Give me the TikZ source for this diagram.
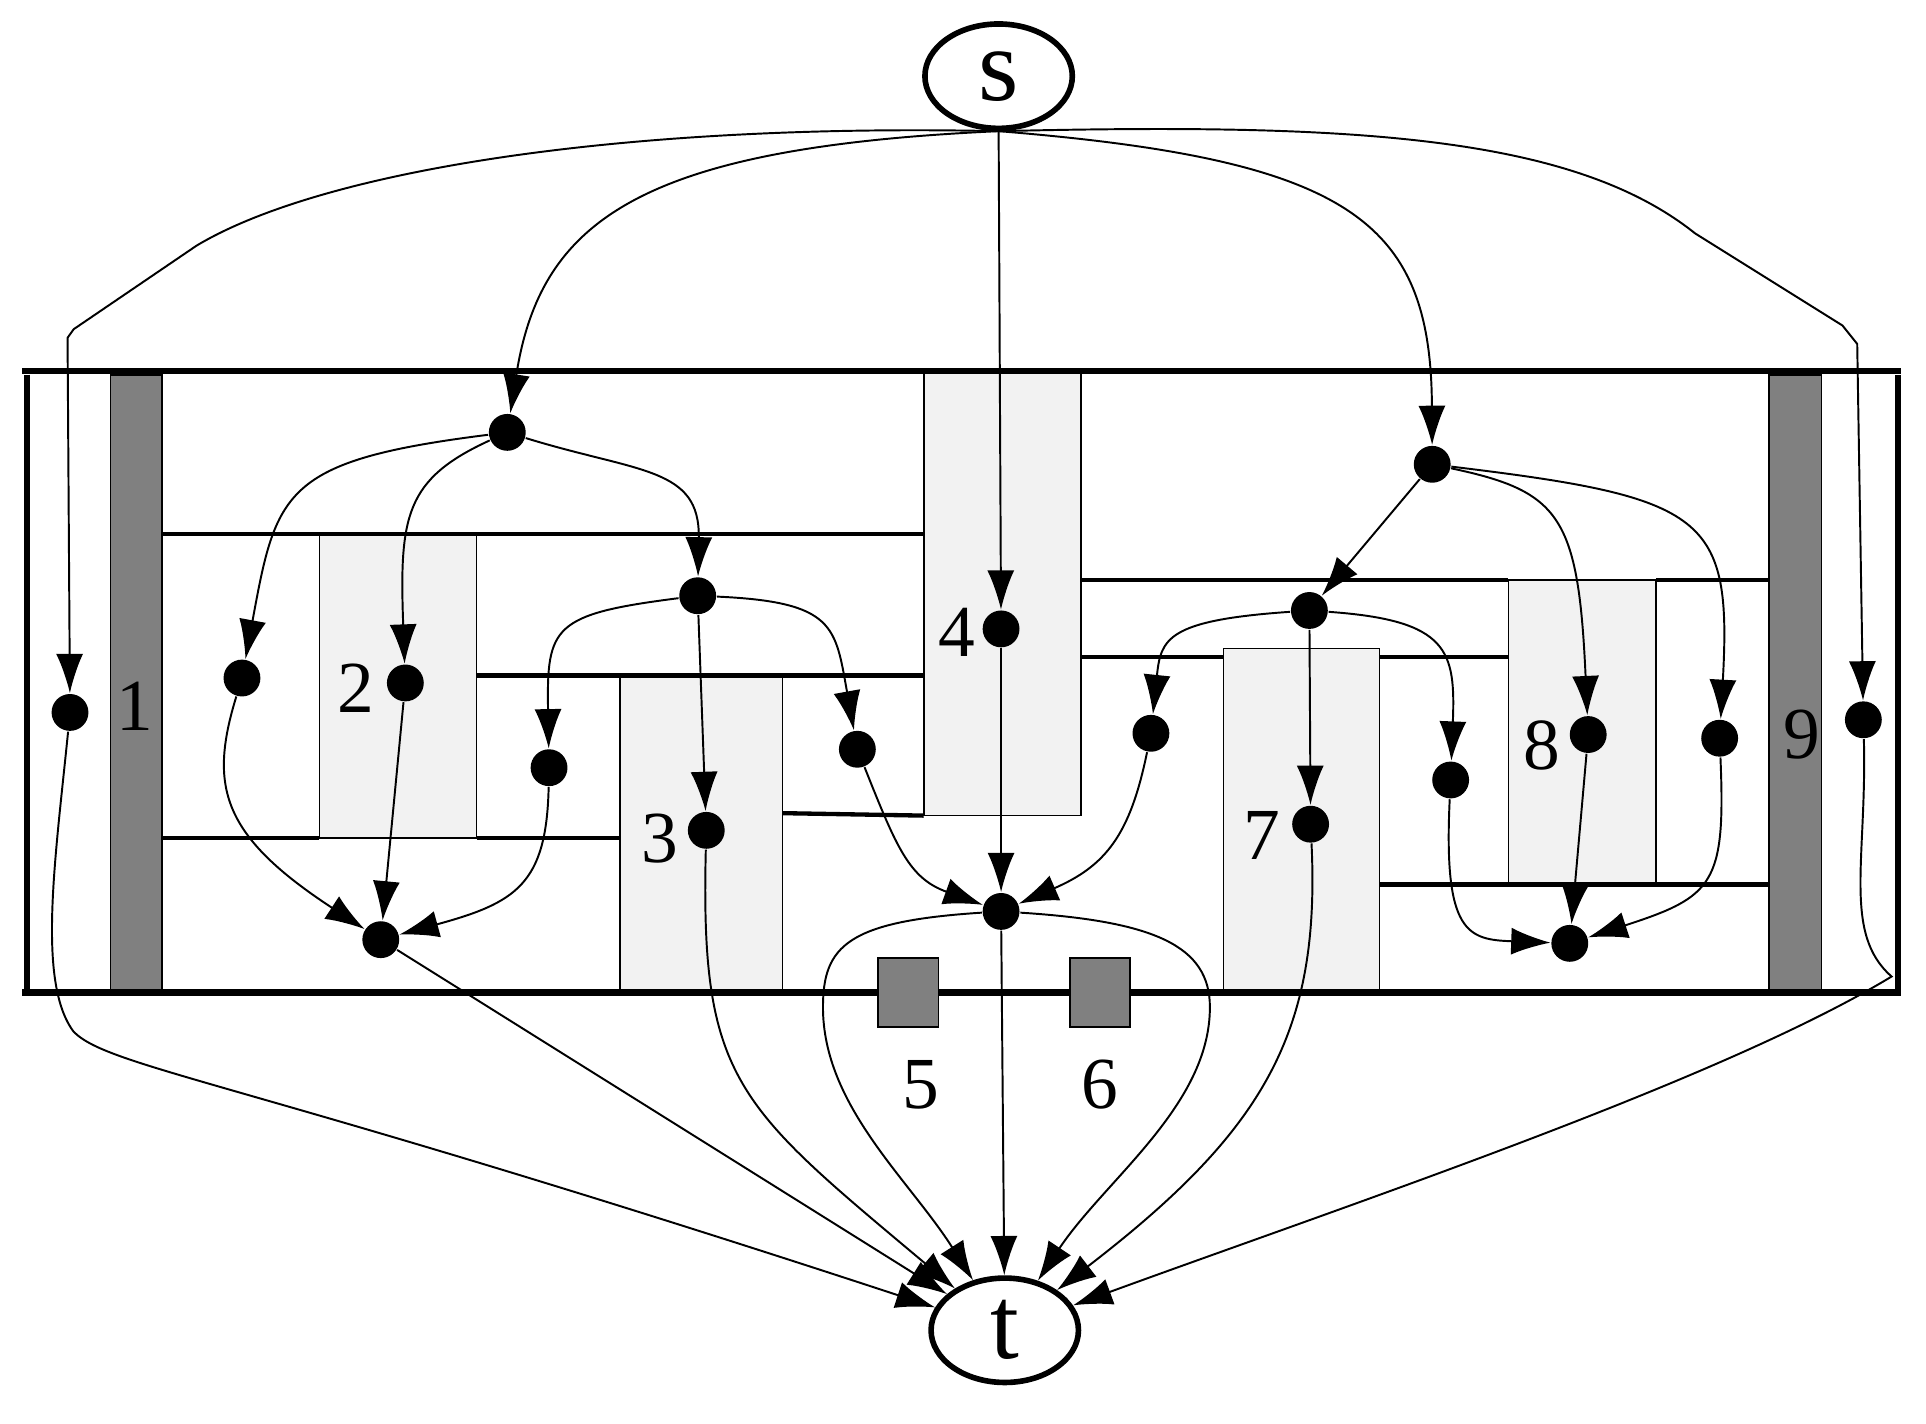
\documentclass[tikz,border=0pt]{standalone}
\usepackage{fontspec}
\setmainfont{Liberation Serif}
\usetikzlibrary{arrows.meta,shapes.geometric}
\begin{document}
\begin{tikzpicture}[x=0.1mm,y=-0.1mm,
  dot/.style={circle,fill=black,inner sep=0pt,minimum size=3mm},
  term/.style={ellipse,draw,line width=1.3pt,minimum width=12mm,minimum height=8.5mm,inner sep=0pt,font=\fontsize{24}{26}\selectfont},
  e/.style={line width=0.45pt,-{Latex[length=3.2mm,width=2.2mm]}},
  thick line/.style={line width=1.5pt},
  mid line/.style={line width=1pt},
  lbox/.style={fill=gray!10,draw=black,line width=0.4pt},
  dbox/.style={draw=black,line width=0.4pt,fill=black!50},
  lab/.style={font=\fontsize{17}{20}\selectfont}]
\useasboundingbox (0,0) rectangle (1568,1159);
% boxes
\draw[lbox] (260,435) rectangle (388,682);
\draw[lbox] (505,550) rectangle (637,808);
\draw[lbox] (752,303) rectangle (880,664);
\draw[lbox] (996,528) rectangle (1123,808);
\draw[lbox] (1228,472) rectangle (1348,720);
\draw[dbox] (90,305) rectangle (132,808);
\draw[dbox] (1440,305) rectangle (1483,808);
\draw[dbox] (715,780) rectangle (764,836);
\draw[dbox] (871,780) rectangle (920,836);
% lines
\draw[thick line] (18,302) -- (1548,302);
\draw[thick line] (18,808) -- (715,808) (764,808) -- (871,808) (920,808) -- (1548,808);
\draw[thick line] (22,305) -- (22,808);
\draw[thick line] (1545,305) -- (1545,808);
\draw[mid line] (132,435) -- (752,435);
\draw[mid line] (132,682) -- (260,682) (388,682) -- (505,682);
\draw[mid line] (388,550) -- (752,550);
\draw[mid line] (637,662) -- (752,664);
\draw[mid line] (880,472) -- (1228,472) (1348,472) -- (1440,472);
\draw[mid line] (880,535) -- (996,535) (1123,535) -- (1228,535);
\draw[mid line] (1123,720) -- (1440,720);
% labels
\node[lab] (l1) at (110,575) {1};
\node[lab] (l2) at (290,560) {2};
\node[lab] (l3) at (537,683) {3};
\node[lab] (l4) at (779,515) {4};
\node[lab] (l5) at (750,883) {5};
\node[lab] (l6) at (895,883) {6};
\node[lab] (l7) at (1027,680) {7};
\node[lab] (l8) at (1255,607) {8};
\node[lab] (l9) at (1467,598) {9};
% terminals
\node[term] (s) at (813,62) {s};
\node[term] (t) at (818,1083) {t};
% dots
\node[dot] (a) at (413,352) {};
\node[dot] (b) at (1166,378) {};
\node[dot] (c) at (568,485) {};
\node[dot] (d) at (1066,497) {};
\node[dot] (e) at (57,580) {};
\node[dot] (f) at (197,552) {};
\node[dot] (g) at (330,556) {};
\node[dot] (h) at (815,512) {};
\node[dot] (i) at (447,625) {};
\node[dot] (j) at (698,610) {};
\node[dot] (k) at (937,597) {};
\node[dot] (l) at (1181,635) {};
\node[dot] (m) at (1293,598) {};
\node[dot] (n) at (1400,601) {};
\node[dot] (o) at (1517,586) {};
\node[dot] (p) at (575,676) {};
\node[dot] (q) at (1067,671) {};
\node[dot] (r) at (310,765) {};
\node[dot] (u) at (815,742) {};
\node[dot] (v) at (1278,768) {};
% edges from s
\draw[e] (s.south) .. controls (520,120) and (440,180) .. (a);
\draw[e] (s.south) .. controls (1100,130) and (1165,180) .. (b);
\draw[e] (s.south) -- (h);
\draw[e] (s.south) .. controls (500,100) and (260,140) .. (160,200) -- (60,268) -- (55,275) -- (e);
\draw[e] (s.south) .. controls (1100,100) and (1280,110) .. (1380,190) -- (1500,265) -- (1512,280) -- (o);
% from a
\draw[e] (a) .. controls (230,375) and (225,400) .. (f);
\draw[e] (a) .. controls (330,390) and (325,420) .. (g);
\draw[e] (a) .. controls (520,385) and (570,380) .. (c);
% from b
\draw[e] (b) -- (d);
\draw[e] (b) .. controls (1270,400) and (1285,420) .. (m);
\draw[e] (b) .. controls (1390,405) and (1410,420) .. (n);
% from c
\draw[e] (c) .. controls (450,500) and (445,510) .. (i);
\draw[e] (c) .. controls (680,490) and (680,510) .. (j);
\draw[e] (c) -- (p);
% from d
\draw[e] (d) .. controls (950,505) and (945,520) .. (k);
\draw[e] (d) .. controls (1180,505) and (1185,530) .. (l);
\draw[e] (d) -- (q);
% to r
\draw[e] (f) .. controls (170,640) and (180,680) .. (r);
\draw[e] (g) -- (r);
\draw[e] (i) .. controls (445,720) and (420,735) .. (r);
% to u
\draw[e] (j) .. controls (730,690) and (740,715) .. (u);
\draw[e] (h) -- (u);
\draw[e] (k) .. controls (920,680) and (900,705) .. (u);
% to v
\draw[e] (l) .. controls (1175,760) and (1195,765) .. (v);
\draw[e] (m) -- (v);
\draw[e] (n) .. controls (1405,720) and (1395,730) .. (v);
% to t
\draw[e] (r) -- (t);
\draw[e] (p) .. controls (570,880) and (600,900) .. (t);
\draw[e] (u) -- (t);
\draw[e] (u) .. controls (690,750) and (670,770) .. (670,820) .. controls (670,900) and (740,960) .. (t);
\draw[e] (u) .. controls (940,750) and (985,770) .. (985,820) .. controls (985,900) and (900,960) .. (t);
\draw[e] (q) .. controls (1075,840) and (1030,920) .. (t);
\draw[e] (e) .. controls (45,700) and (30,800) .. (60,840) .. controls (90,870) and (200,880) .. (t);
\draw[e] (o) .. controls (1520,700) and (1500,760) .. (1540,795) .. controls (1400,880) and (1100,980) .. (t);
\end{tikzpicture}
\end{document}
